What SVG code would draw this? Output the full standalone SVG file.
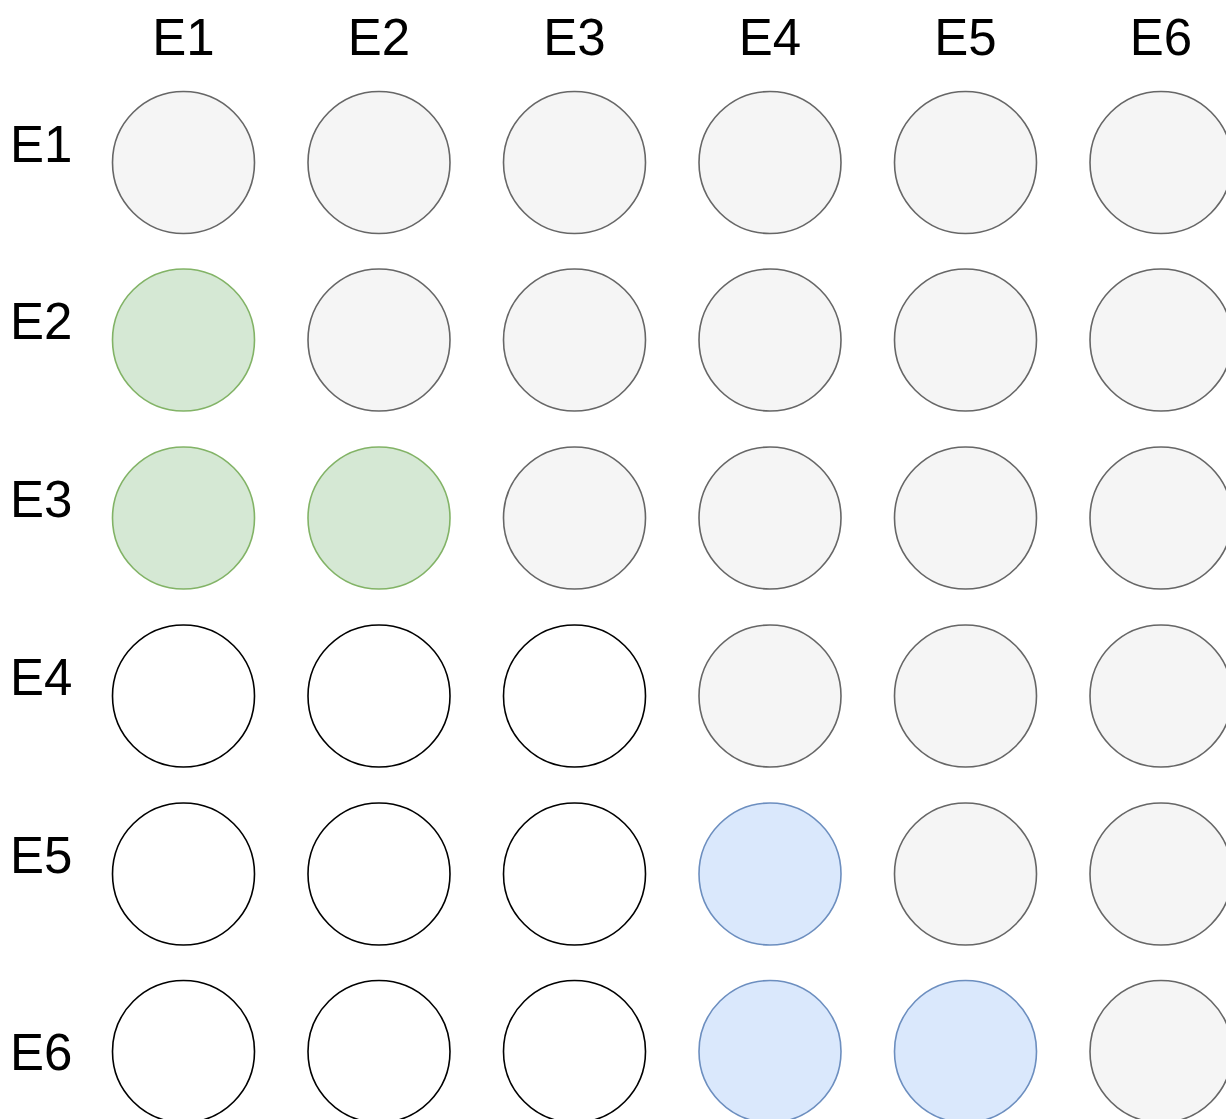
<svg xmlns="http://www.w3.org/2000/svg" width="1226" height="1119" viewBox="0 0 1226 1119">
<style>
text{font-family:"Liberation Sans",Arial,sans-serif;font-size:51px;fill:#000}
.top{text-anchor:middle}
circle{stroke-width:1.6}
.g{fill:#f5f5f5;stroke:#666666}
.gr{fill:#d5e8d4;stroke:#82b366}
.b{fill:#dae8fc;stroke:#6c8ebf}
.w{fill:#ffffff;stroke:#000000}
</style>
<rect width="1226" height="1119" fill="#ffffff"/>
<g id="col-labels">
<text class="top" x="183.5" y="55">E1</text>
<text class="top" x="379" y="55">E2</text>
<text class="top" x="574.5" y="55">E3</text>
<text class="top" x="770" y="55">E4</text>
<text class="top" x="965.5" y="55">E5</text>
<text class="top" x="1161" y="55">E6</text>
</g>
<g id="row-labels">
<text x="10" y="162">E1</text>
<text x="10" y="339">E2</text>
<text x="10" y="517">E3</text>
<text x="10" y="695">E4</text>
<text x="10" y="873">E5</text>
<text x="10" y="1070">E6</text>
</g>
<g id="row1">
<circle id="c11" class="g" cx="183.5" cy="162.5" r="71"/>
<circle id="c12" class="g" cx="379" cy="162.5" r="71"/>
<circle id="c13" class="g" cx="574.5" cy="162.5" r="71"/>
<circle id="c14" class="g" cx="770" cy="162.5" r="71"/>
<circle id="c15" class="g" cx="965.5" cy="162.5" r="71"/>
<circle id="c16" class="g" cx="1161" cy="162.5" r="71"/>
</g>
<g id="row2">
<circle id="c21" class="gr" cx="183.5" cy="340" r="71"/>
<circle id="c22" class="g" cx="379" cy="340" r="71"/>
<circle id="c23" class="g" cx="574.5" cy="340" r="71"/>
<circle id="c24" class="g" cx="770" cy="340" r="71"/>
<circle id="c25" class="g" cx="965.5" cy="340" r="71"/>
<circle id="c26" class="g" cx="1161" cy="340" r="71"/>
</g>
<g id="row3">
<circle id="c31" class="gr" cx="183.5" cy="518" r="71"/>
<circle id="c32" class="gr" cx="379" cy="518" r="71"/>
<circle id="c33" class="g" cx="574.5" cy="518" r="71"/>
<circle id="c34" class="g" cx="770" cy="518" r="71"/>
<circle id="c35" class="g" cx="965.5" cy="518" r="71"/>
<circle id="c36" class="g" cx="1161" cy="518" r="71"/>
</g>
<g id="row4">
<circle id="c41" class="w" cx="183.5" cy="696" r="71"/>
<circle id="c42" class="w" cx="379" cy="696" r="71"/>
<circle id="c43" class="w" cx="574.5" cy="696" r="71"/>
<circle id="c44" class="g" cx="770" cy="696" r="71"/>
<circle id="c45" class="g" cx="965.5" cy="696" r="71"/>
<circle id="c46" class="g" cx="1161" cy="696" r="71"/>
</g>
<g id="row5">
<circle id="c51" class="w" cx="183.5" cy="874" r="71"/>
<circle id="c52" class="w" cx="379" cy="874" r="71"/>
<circle id="c53" class="w" cx="574.5" cy="874" r="71"/>
<circle id="c54" class="b" cx="770" cy="874" r="71"/>
<circle id="c55" class="g" cx="965.5" cy="874" r="71"/>
<circle id="c56" class="g" cx="1161" cy="874" r="71"/>
</g>
<g id="row6">
<circle id="c61" class="w" cx="183.5" cy="1051.5" r="71"/>
<circle id="c62" class="w" cx="379" cy="1051.5" r="71"/>
<circle id="c63" class="w" cx="574.5" cy="1051.5" r="71"/>
<circle id="c64" class="b" cx="770" cy="1051.5" r="71"/>
<circle id="c65" class="b" cx="965.5" cy="1051.5" r="71"/>
<circle id="c66" class="g" cx="1161" cy="1051.5" r="71"/>
</g>
<g id="connectors"/>
</svg>
